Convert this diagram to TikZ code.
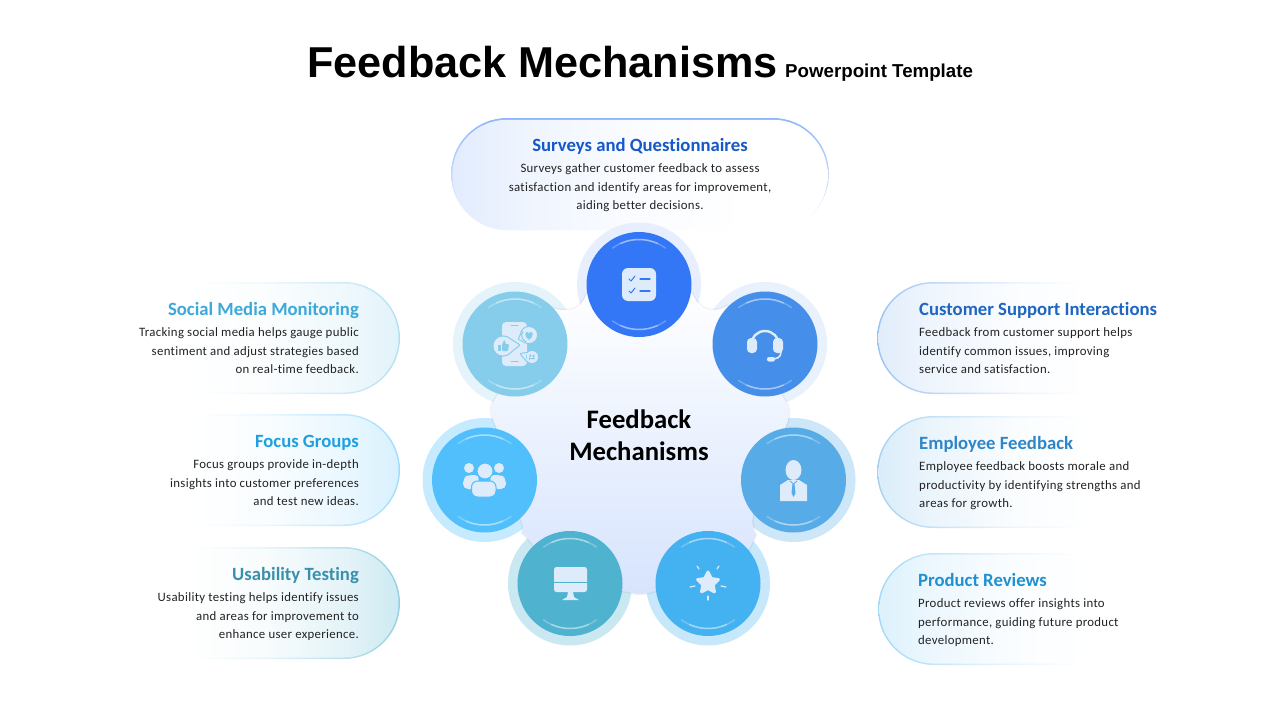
\documentclass[tikz,border=0pt]{standalone}
\usepackage{fontspec}
\setmainfont[Ligatures=NoCommon]{Carlito}
\newfontfamily\titlefont{Liberation Sans}
\newfontfamily\blurbfont[LetterSpace=2.5,Ligatures=NoCommon]{Carlito}
\usepackage{tikz}
\usetikzlibrary{positioning,shapes.geometric}
\definecolor{m_survey}{HTML}{3377F6}
\definecolor{m_support}{HTML}{458FEA}
\definecolor{m_social}{HTML}{85CDEA}
\definecolor{m_focus}{HTML}{50BFFC}
\definecolor{m_employee}{HTML}{57ABE6}
\definecolor{m_usability}{HTML}{4FB3D0}
\definecolor{m_review}{HTML}{44B1F0}
\definecolor{m_icon}{HTML}{DDEBFB}
\definecolor{m_ink}{HTML}{222222}
\definecolor{h_survey}{HTML}{1558C8}
\definecolor{h_social}{HTML}{3BA9DA}
\definecolor{h_focus}{HTML}{1F9FE0}
\definecolor{h_usability}{HTML}{3A8FAB}
\definecolor{h_support}{HTML}{1E66C0}
\definecolor{h_employee}{HTML}{2E86C8}
\definecolor{h_review}{HTML}{2090D0}
\colorlet{pillcol}{m_social}
\pgfdeclarehorizontalshading[pillcol]{rimfade}{100bp}{color(0bp)=(white); color(37bp)=(white); color(50bp)=(pillcol!22); color(65bp)=(pillcol!65); color(75bp)=(pillcol); color(100bp)=(pillcol)}
\pgfdeclarehorizontalshading[pillcol]{bodyfade}{100bp}{color(0bp)=(white); color(35bp)=(white); color(50bp)=(pillcol!15); color(65bp)=(pillcol!55); color(75bp)=(pillcol); color(100bp)=(pillcol)}
\tikzset{
    halo/.style={circle,minimum size=124pt,inner sep=0pt,fill=#1},
    disc/.style={circle,minimum size=105pt,inner sep=0pt,fill=#1},
    glint/.style={white,line width=1.5pt,line cap=round},
    pillrim/.style={rectangle,rounded corners=56pt,minimum width=270pt,minimum height=112pt,inner sep=0pt,shade,shading=rimfade,/utils/exec={\colorlet{pillcol}{#1}}},
    pillbody/.style={rectangle,rounded corners=54.5pt,minimum width=267pt,minimum height=109pt,inner sep=0pt,shade,shading=bodyfade,/utils/exec={\colorlet{pillcol}{#1}}},
    head/.style={font=\bfseries\fontsize{18.7}{20}\selectfont,inner sep=0pt,text height=14pt,text depth=4.5pt,text=#1},
    blurb/.style={font=\blurbfont\fontsize{12.8}{18.5}\selectfont,inner sep=0pt,text=m_ink},
    icon/.style={fill=m_icon,draw=none},
    iconcut/.style={draw=#1,line width=1.3pt,line cap=round,line join=round},
    bubblerim/.style={draw=m_social,line width=2.2pt,line join=round}
}
\newcommand{\discglint}[1]{
    \foreach \span/\op in {36/.25,24/.35}{
        \draw[glint,opacity=\op] (#1.center) ++(-90-\span:45) arc[start angle=-90-\span,end angle=-90+\span,radius=45];
        \draw[glint,opacity=\op] (#1.center) ++(90-\span:45) arc[start angle=90-\span,end angle=90+\span,radius=45];
    }
}
\newcommand{\socialbubble}[1]{
    \draw[bubblerim] #1;
    \fill[icon] #1;
}
\newcommand{\hubpath}{(639,285) -- (692,293)
            .. controls (697,305) and (705,310) .. (713,310) .. controls (719,310) and (724,308) .. (727,306) -- (765,344)
            -- (782,395) .. controls (784,400) and (788,404) .. (789,410) .. controls (789.5,415) and (788,422) .. (785,428) -- (793,480)
            -- (753,514) .. controls (752,522) and (752,530) .. (756,535) .. controls (754,540) and (751,545) .. (749,549) -- (708,583)
            -- (656,591) .. controls (651,592) and (645,594) .. (640,594) .. controls (635,594) and (629,592) .. (622,591) -- (570,583)
            -- (533,545) .. controls (530,541) and (526,536) .. (522,533) .. controls (524,529) and (523,524) .. (520,518) -- (484,480)
            -- (497,429) .. controls (494,422) and (491,416) .. (491,410) .. controls (491,404) and (495,400) .. (498,394) -- (515,344)
            -- (553,308) .. controls (557,310) and (562,310) .. (567,310) .. controls (575,310) and (583,305) .. (587,293) -- cycle}
\begin{document}
\begin{tikzpicture}[x=1pt,y=-1pt]
        \useasboundingbox (0,0) rectangle (1280,720);

        \node[font=\titlefont\bfseries\fontsize{43.2}{46}\selectfont,anchor=base west,inner sep=0pt] (title) at (307,77) {Feedback Mechanisms};
        \node[font=\titlefont\bfseries\fontsize{18.7}{20}\selectfont,anchor=base west,inner sep=0pt] (subtitle) at (785,77) {Powerpoint Template};

        \node[rectangle,rounded corners=56pt,minimum width=378pt,minimum height=112pt,inner sep=0pt,top color=m_survey!55,bottom color=white] (surveyrim) at (640,174) {};
        \node[pillbody=m_survey!14,shading angle=180,minimum width=375pt,minimum height=110.5pt] (surveybody) at (640,175) {};
        \node[head=h_survey] (surveyhead) at (640,147) {Surveys and Questionnaires};
        \node[blurb,align=center,below=7pt of surveyhead] (surveytext) {Surveys gather customer feedback to assess\\satisfaction and identify areas for improvement,\\aiding better decisions.};

        \node[pillrim=m_social!62] (socialrim) at (265,338) {};
        \node[pillbody=m_social!24] (socialbody) at (socialrim) {};
        \node[head=h_social,anchor=east] (socialhead) at (359,311) {Social Media Monitoring};
        \node[blurb,align=right,below=7pt of socialhead.south east,anchor=north east] (socialtext) {Tracking social media helps gauge public\\sentiment and adjust strategies based\\on real-time feedback.};

        \node[pillrim=m_focus!55] (focusrim) at (265,470) {};
        \node[pillbody=m_focus!22] (focusbody) at (focusrim) {};
        \node[head=h_focus,anchor=east] (focushead) at (359,443) {Focus Groups};
        \node[blurb,align=right,below=7pt of focushead.south east,anchor=north east] (focustext) {Focus groups provide in-depth\\insights into customer preferences\\and test new ideas.};

        \node[pillrim=m_usability!62] (usabilityrim) at (265,603) {};
        \node[pillbody=m_usability!28] (usabilitybody) at (usabilityrim) {};
        \node[head=h_usability,anchor=east] (usabilityhead) at (359,576) {Usability Testing};
        \node[blurb,align=right,below=7pt of usabilityhead.south east,anchor=north east] (usabilitytext) {Usability testing helps identify issues\\and areas for improvement to\\enhance user experience.};

        \node[pillrim=m_support!55,shading angle=180] (supportrim) at (1012,338) {};
        \node[pillbody=m_support!16,shading angle=180] (supportbody) at (supportrim) {};
        \node[head=h_support,anchor=west] (supporthead) at (919,311) {Customer Support Interactions};
        \node[blurb,align=left,below=7pt of supporthead.south west,anchor=north west] (supporttext) {Feedback from customer support helps\\identify common issues, improving\\service and satisfaction.};

        \node[pillrim=m_employee!55,shading angle=180] (employeerim) at (1012,472) {};
        \node[pillbody=m_employee!22,shading angle=180] (employeebody) at (employeerim) {};
        \node[head=h_employee,anchor=west] (employeehead) at (919,445) {Employee Feedback};
        \node[blurb,align=left,below=7pt of employeehead.south west,anchor=north west] (employeetext) {Employee feedback boosts morale and\\productivity by identifying strengths and\\areas for growth.};

        \node[pillrim=m_review!50,shading angle=180] (reviewrim) at (1013,609) {};
        \node[pillbody=m_review!18,shading angle=180] (reviewbody) at (reviewrim) {};
        \node[head=h_review,anchor=west] (reviewhead) at (918,582) {Product Reviews};
        \node[blurb,align=left,below=7pt of reviewhead.south west,anchor=north west] (reviewtext) {Product reviews offer insights into\\performance, guiding future product\\development.};

        \node[halo=m_survey!12] (surveyhalo) at (639,284.5) {};
        \node[halo=m_support!12] (supporthalo) at (765,344) {};
        \node[halo=m_social!22] (socialhalo) at (515,344) {};
        \node[halo=m_focus!32] (focushalo) at (484.5,480) {};
        \node[halo=m_employee!30] (employeehalo) at (793.5,480) {};
        \node[halo=m_usability!30] (usabilityhalo) at (570,583.5) {};
        \node[halo=m_review!30] (reviewhalo) at (708,583.5) {};

        \draw[black,opacity=.05,line width=2.5pt] \hubpath;
        \shade[top color=white,bottom color=m_survey!20] \hubpath;

        \node[disc=m_survey] (surveydisc) at (surveyhalo) {};
        \node[disc=m_support] (supportdisc) at (supporthalo) {};
        \node[disc=m_social] (socialdisc) at (socialhalo) {};
        \node[disc=m_focus] (focusdisc) at (focushalo) {};
        \node[disc=m_employee] (employeedisc) at (employeehalo) {};
        \node[disc=m_usability] (usabilitydisc) at (usabilityhalo) {};
        \node[disc=m_review] (reviewdisc) at (reviewhalo) {};
        \discglint{surveydisc}
        \discglint{supportdisc}
        \discglint{socialdisc}
        \discglint{focusdisc}
        \discglint{employeedisc}
        \discglint{usabilitydisc}
        \discglint{reviewdisc}

        \node[font=\bfseries\fontsize{26.7}{32}\selectfont,align=center,inner sep=0pt] (hubtext) at (639,435.5) {Feedback\\Mechanisms};

        % surveys
        \fill[icon,rounded corners=6pt] (622,268) rectangle (656,301);
        \draw[iconcut=m_survey] (640,279) -- (650,279);
        \draw[iconcut=m_survey] (640,291) -- (650,291);
        \draw[iconcut=m_survey,line width=1pt] (629,279) -- (631,281) -- (635,276);
        \draw[iconcut=m_survey,line width=1pt] (629,291) -- (631,293) -- (635,288);

        % support
        \draw[m_icon,line width=2.4pt] (751,345) arc[start angle=180,end angle=360,radius=14];
        \fill[icon,rounded corners=4pt] (747,338) rectangle (757,353);
        \fill[icon,rounded corners=4pt] (773,338) rectangle (783,353);
        \draw[m_icon,line width=1.6pt] (781,352) .. controls (781,358) and (776,359) .. (771,359);
        \fill[icon,rounded corners=2pt] (767,357) rectangle (775,361.5);

        % social
        \fill[icon,rounded corners=4pt] (502,322) rectangle (527,366);
        \draw[iconcut=m_social,line width=1pt] (511,325) -- (518,325);
        \draw[iconcut=m_social,line width=1pt] (511,361) -- (518,361);
        \socialbubble{(529,335) circle (8) (523,330) -- (519,339) -- (527,343)}
        \socialbubble{(532,357) circle (6) (527,353) -- (521,354) -- (527,361)}
        \socialbubble{(503,346) circle (9.5) (508,338) -- (519,345) -- (508,354)}
        \fill[m_social] (498,345) rectangle (500.5,351);
        \fill[m_social,rounded corners=1pt] (502,345) -- (504,340) -- (505.5,341) -- (505,344) -- (509,344) -- (508,351) -- (502,351) -- cycle;
        \fill[m_social] (529,340) .. controls (524,336) and (525,332) .. (527,332) .. controls (528,332) and (529,333) .. (529,334) .. controls (529,333) and (530,332) .. (531,332) .. controls (533,332) and (534,336) .. (529,340) -- cycle;
        \draw[m_social,line width=.7pt] (530.5,354) -- (529.5,360) (534,354) -- (533,360) (529,356) -- (535,356) (529,358.5) -- (535,358.5);

        % focus
        \fill[icon] (469,468) circle (5);
        \fill[icon] (499,468) circle (5);
        \fill[icon,rounded corners=5pt] (463,489) -- (463,478) -- (468,475) -- (480,475) -- (476,489) -- cycle;
        \fill[icon,rounded corners=5pt] (506,489) -- (506,478) -- (501,475) -- (489,475) -- (493,489) -- cycle;
        \filldraw[fill=m_icon,draw=m_focus,line width=1pt] (485,471) circle (8);
        \filldraw[fill=m_icon,draw=m_focus,line width=1pt,rounded corners=6pt] (471.5,497) rectangle (496,481);

        % employee
        \fill[icon] (793.5,470) ellipse (8 and 10);
        \fill[icon] (780,501) -- (780,485) -- (788,480) -- (799,480) -- (807,485) -- (807,501) -- cycle;
        \draw[iconcut=m_employee,line width=.8pt] (790,481) -- (793.5,484) -- (797,481);
        \fill[m_employee] (792.5,484) -- (794.5,484) -- (795.5,493) -- (793.5,497) -- (791.5,493) -- cycle;

        % usability
        \fill[icon,rounded corners=2.5pt] (554,567) rectangle (587,592);
        \draw[m_usability,line width=1pt] (554,582) -- (587,582);
        \fill[icon] (568,592) -- (573,592) -- (574,597) -- (579,600) -- (562,600) -- (567,597) -- cycle;

        % reviews
        \node[star,star points=5,star point ratio=2,fill=m_icon,draw=m_icon,line width=3pt,line join=round,minimum size=22pt,inner sep=0pt] (reviewstar) at (708,583) {};
        \draw[iconcut=m_icon,line width=1.2pt] (697,566) -- (699,569);
        \draw[iconcut=m_icon,line width=1.2pt] (719,566) -- (717,569);
        \draw[iconcut=m_icon,line width=1.2pt] (690,587) -- (695,586);
        \draw[iconcut=m_icon,line width=1.2pt] (726,587) -- (721,586);
        \draw[iconcut=m_icon,line width=1.2pt] (708,596) -- (708,600);
    \end{tikzpicture}
\end{document}
